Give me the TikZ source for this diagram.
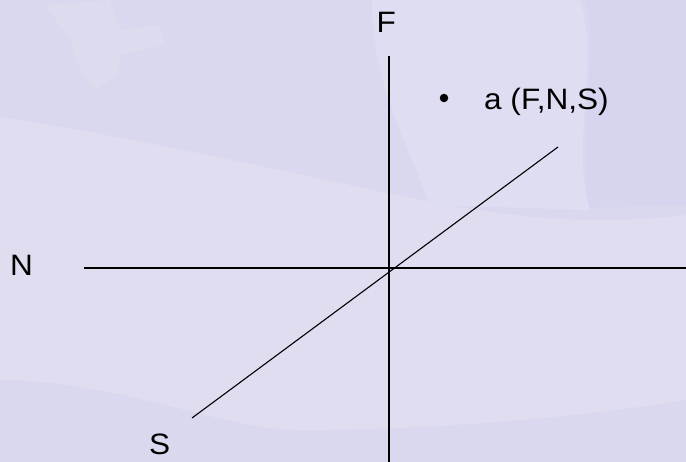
\documentclass[tikz,border=0pt]{standalone}
\usepackage{fontspec}
\setmainfont{Liberation Sans}
\newcommand{\wider}[1]{\scalebox{1.07}[1]{#1}}
\begin{document}
\begin{tikzpicture}[x=1pt,y=-1pt,
  lbl/.style={inner sep=0pt, anchor=base west, font=\fontsize{29.5}{33}\selectfont},
  axis/.style={line width=1.3pt, black}]
% background
\fill[fill={rgb,255:red,218;green,216;blue,238}] (0,0) rectangle (686,462);
\useasboundingbox (0,0) rectangle (686,462);
% lighter band
\fill[fill={rgb,255:red,224;green,221;blue,240}]
  (0,117) .. controls (150,140) and (300,175) .. (420,200)
  .. controls (520,220) and (600,225) .. (686,215) -- (686,400)
  .. controls (560,420) and (420,430) .. (300,430)
  .. controls (220,430) and (120,380) .. (0,380) -- cycle;
% lighter vertical shape top middle
\fill[fill={rgb,255:red,223;green,221;blue,242}]
  (372,0) -- (580,0) .. controls (600,60) and (570,150) .. (590,210)
  -- (430,205) .. controls (410,150) and (370,80) .. (372,0) -- cycle;
% darker strip right
\fill[fill={rgb,255:red,213;green,213;blue,240}]
  (586,0) -- (686,0) -- (686,205) -- (590,208) .. controls (575,150) and (600,60) .. (586,0) -- cycle;
% faint watermark top-left
\fill[fill={rgb,255:red,224;green,221;blue,238}, opacity=0.6]
  (45,5) -- (110,0) -- (120,30) -- (160,25) -- (165,45) -- (120,55) -- (118,75) -- (95,90) -- (80,70) -- (70,40) -- cycle;

% coordinates
\coordinate (vtop) at (389,56);
\coordinate (vbot) at (389,462);
\coordinate (hleft) at (84,268);
\coordinate (hright) at (686,268);
\coordinate (dlow) at (192,418);
\coordinate (dhigh) at (558,147);

\draw[axis] (vtop) -- (vbot);
\draw[axis] (hleft) -- (hright);
\draw[axis, line width=1.1pt] (dlow) -- (dhigh);

% labels
\node[lbl] (F) at (376.5,32.5) {\wider{F}};
\node[lbl] (N) at (10,276) {\wider{N}};
\node[lbl] (S) at (149,454) {\wider{S}};
\node[circle, fill=black, inner sep=0pt, minimum size=8.5pt] (bul) at (444,98) {};
\node[lbl] (a) at (484,109.5) {\wider{a (F,N,S)}};
\end{tikzpicture}
\end{document}
